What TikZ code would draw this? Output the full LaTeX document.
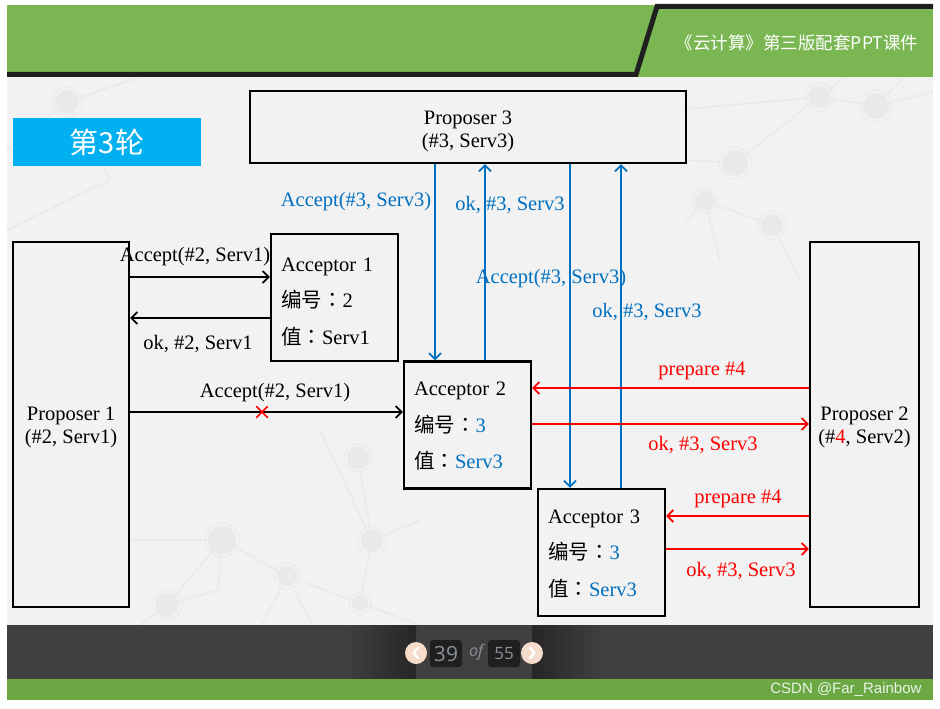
\documentclass[tikz,border=0pt]{standalone}
\usepackage{fontspec}
\setmainfont{Liberation Serif}
\newfontfamily\cjk{Noto Sans CJK SC}
\newfontfamily\cjkcolon{Noto Sans CJK TC}
\newfontfamily\navfont{Open Sans}
\newfontfamily\wmfont{Liberation Sans}
\usetikzlibrary{arrows.meta,positioning,shapes.misc}

\definecolor{slidegreen}{HTML}{7AB752}
\definecolor{footgreen}{HTML}{6BA844}
\definecolor{okblue}{HTML}{0070C0}
\definecolor{tagcyan}{HTML}{00B0F0}
\definecolor{bargray}{HTML}{404040}
\definecolor{pagegray}{HTML}{F2F2F2}
\definecolor{netgray}{HTML}{E9E9E9}
\definecolor{navpeach}{HTML}{F5DCCB}
\definecolor{navdigit}{HTML}{8A9098}

\newcommand{\numlbl}{{\cjk 编号}{\cjkcolon ：}}
\newcommand{\vallbl}{{\cjk 值}{\cjkcolon ：}}
\newcommand{\toprule}[1]{\rule{0pt}{#1}}

\begin{document}
\begin{tikzpicture}
  [x=1pt, y=-1pt, font=\fontsize{20.5}{23}\selectfont,
   box/.style={draw, line width=2.2pt, inner sep=0pt, align=center},
   acc/.style={box, minimum width=127pt, minimum height=127pt, text width=107pt,
               align=left, font=\fontsize{20.5}{36.5}\selectfont},
   msg/.style={line width=1.8pt, -{Straight Barb[length=6pt,width=12pt]}},
   lbl/.style={inner sep=1pt, yshift=-3pt},
   pagebox/.style={fill=black!88, rounded corners=3pt, text=navdigit, inner sep=0pt},
   navbtn/.style={circle, fill=navpeach, minimum size=22pt, inner sep=0pt},
   chevron/.style={white, line width=2.4pt, line cap=round, line join=round}]
  \useasboundingbox (0,0) rectangle (940,709);
  \fill[white] (0,0) rectangle (940,709);

  % slide frame
  \fill[pagegray] (7,77) rectangle (933,625);
  % faint network behind the slide
  \draw[netgray, line width=1.3pt]
    (7,150) -- (67,102) -- (140,77) (67,102) -- (110,180) -- (7,230)
    (130,540) -- (222,540) -- (287,576) -- (360,603) -- (420,625)
    (222,540) -- (167,605) -- (140,625) (222,540) -- (218,590) -- (167,605)
    (287,576) -- (262,625) (287,576) -- (312,625)
    (320,430) -- (372,541) -- (360,603) (358,458) -- (372,541) -- (420,520)
    (686,109) -- (819,97) -- (876,106) -- (933,92)
    (819,97) -- (735,163) -- (686,160) (819,97) -- (845,77) (876,106) -- (905,77)
    (686,222) -- (705,201) -- (772,225) -- (800,280) (705,201) -- (720,260);
  \foreach \x/\y/\r in {67/102/12, 222/540/14, 287/576/10, 167/605/12, 358/458/11,
                        372/541/11, 360/603/8, 819/97/11, 876/106/13, 735/163/13,
                        705/201/10, 772/225/11}{
    \fill[netgray] (\x,\y) circle[radius=\r];
    \draw[netgray, line width=0.8pt] (\x,\y) circle[radius=\r+3];
  }
  \fill[slidegreen] (7,5) rectangle (933,77);
  \draw[black!88, line width=5pt] (7,74.5) -- (636,74.5) -- (657,6.5) -- (933,6.5);
  \node[text=white, font=\cjk\fontsize{17.5}{17.5}\selectfont] (title) at (797,43) {《云计算》第三版配套PPT课件};
  \node[fill=tagcyan, text=white, minimum width=188pt, minimum height=48pt,
        font=\cjk\fontsize{29}{29}\selectfont] (round) at (107,142) {第3轮};

  % footer
  \fill[bargray] (7,625) rectangle (933,679);
  \shade[left color=bargray, right color=black!85] (345,625) rectangle (416,679);
  \shade[left color=black!85, right color=bargray] (532,625) rectangle (604,679);
  \fill[footgreen] (7,679) rectangle (933,700);
  \node[navbtn] (prev) at (416,653) {};
  \draw[chevron] (prev.center) ++(2,-5) -- ++(-4.5,5) -- ++(4.5,5);
  \node[pagebox, minimum width=32pt, minimum height=27pt,
        font=\navfont\fontsize{21}{21}\selectfont] (cur) at (446,653.5) {39};
  \node[text=navdigit, font=\navfont\itshape\fontsize{16}{16}\selectfont] (of) at (476,652) {of};
  \node[pagebox, minimum width=32pt, minimum height=27pt,
        font=\navfont\fontsize{17}{17}\selectfont] (total) at (504,653.5) {55};
  \node[navbtn] (next) at (532,653) {};
  \draw[chevron] (next.center) ++(-2,-5) -- ++(4.5,5) -- ++(-4.5,5);
  \node[anchor=east, text=white!85!footgreen, font=\wmfont\fontsize{15}{15}\selectfont] (mark) at (925,690) {CSDN @Far\_Rainbow};

  % proposers and acceptors
  \node[box, minimum width=436pt, minimum height=72pt] (p3) at (468,127) {\toprule{22pt}Proposer 3\\(\#3, Serv3)};
  \node[box, minimum width=116pt, minimum height=365pt] (p1) at (71,424.5) {\toprule{20pt}Proposer 1\\(\#2, Serv1)};
  \node[box, minimum width=109pt, minimum height=365pt] (p2) at (864.5,424.5) {\toprule{20pt}Proposer 2\\(\#{\color{red}4}, Serv2)};
  \node[acc] (a1) at (334.5,297.5) {\toprule{22pt}Acceptor 1\\\numlbl 2\\\vallbl Serv1};
  \node[acc] (a2) at (467.5,425) {\toprule{16pt}Acceptor 2\\\numlbl{\color{okblue}3}\\\vallbl{\color{okblue}Serv3}};
  \node[acc] (a3) at (601.5,552.5) {\toprule{16pt}Acceptor 3\\\numlbl{\color{okblue}3}\\\vallbl{\color{okblue}Serv3}};

  % proposer 1
  \draw[msg] (p1.east |- 0,277) -- (a1.west |- 0,277);
  \draw[msg] (a1.west |- 0,318) -- (p1.east |- 0,318);
  \draw[msg] (p1.east |- 0,412) -- (a2.west |- 0,412);
  \node[lbl] (l1) at (195,254) {Accept(\#2, Serv1)};
  \node[lbl] (l2) at (198,341) {ok, \#2, Serv1};
  \node[lbl] (l3) at (275,390) {Accept(\#2, Serv1)};
  \node[cross out, draw=red, line width=1.5pt, minimum size=10pt, inner sep=0pt] (lost) at (262,412) {};

  % proposer 3
  \draw[msg, okblue] (p3.south -| 435,0) -- (a2.north -| 435,0);
  \draw[msg, okblue] (a2.north -| 485,0) -- (p3.south -| 485,0);
  \draw[msg, okblue] (p3.south -| 570,0) -- (a3.north -| 570,0);
  \draw[msg, okblue] (a3.north -| 621,0) -- (p3.south -| 621,0);
  \node[lbl, text=okblue] (l4) at (356,199) {Accept(\#3, Serv3)};
  \node[lbl, text=okblue] (l5) at (510,202) {ok, \#3, Serv3};
  \node[lbl, text=okblue] (l6) at (551,276) {Accept(\#3, Serv3)};
  \node[lbl, text=okblue] (l7) at (647,309) {ok, \#3, Serv3};

  % proposer 2
  \draw[msg, red] (p2.west |- 0,388) -- (a2.east |- 0,388);
  \draw[msg, red] (a2.east |- 0,424) -- (p2.west |- 0,424);
  \draw[msg, red] (p2.west |- 0,516) -- (a3.east |- 0,516);
  \draw[msg, red] (a3.east |- 0,549) -- (p2.west |- 0,549);
  \node[lbl, text=red] (l8) at (702,368) {prepare \#4};
  \node[lbl, text=red] (l9) at (703,442) {ok, \#3, Serv3};
  \node[lbl, text=red] (l10) at (738,496) {prepare \#4};
  \node[lbl, text=red] (l11) at (741,568) {ok, \#3, Serv3};
\end{tikzpicture}
\end{document}
